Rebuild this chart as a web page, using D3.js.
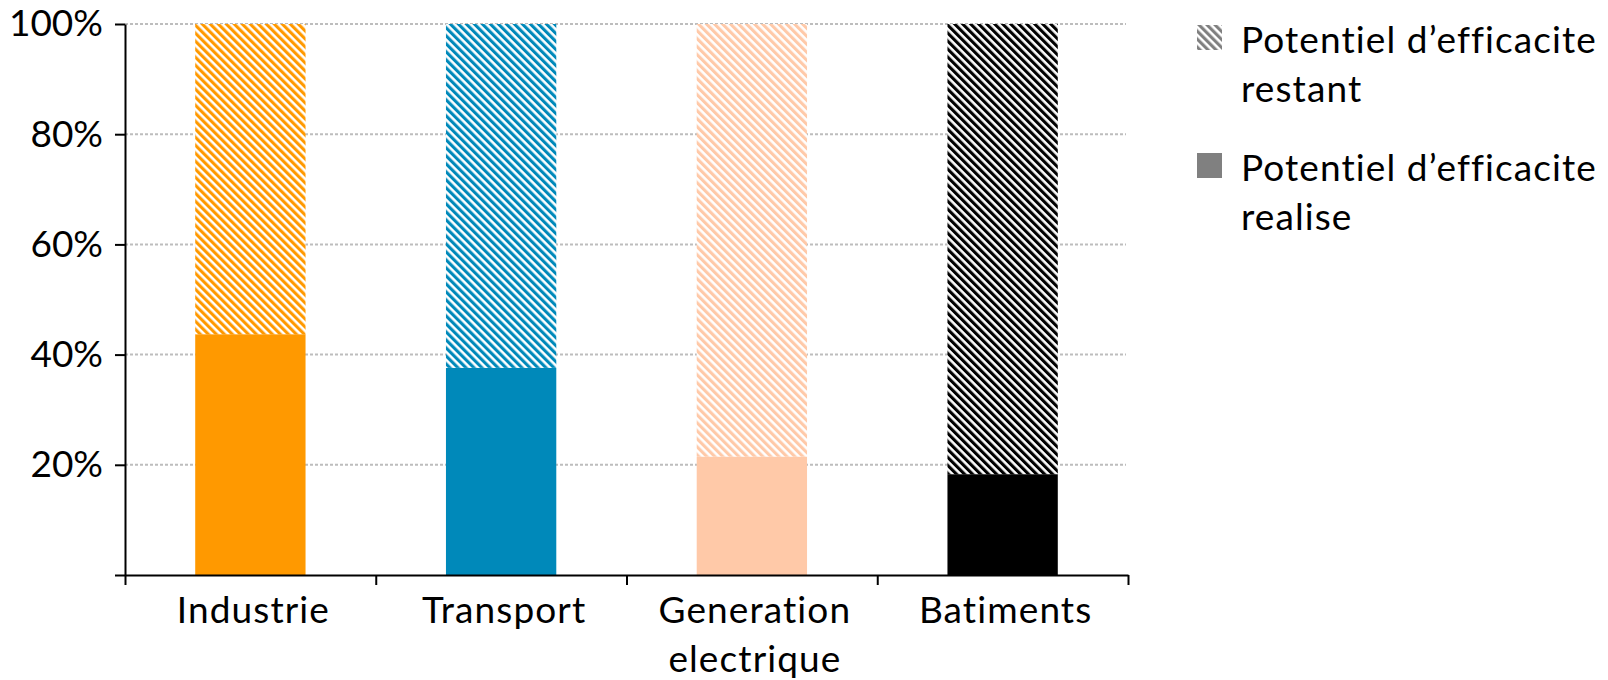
<!DOCTYPE html>
<html>
<head>
<meta charset="utf-8">
<script src="https://cdn.jsdelivr.net/npm/d3@7"></script>
<style>
  html, body { margin: 0; padding: 0; background: #fff; }
  svg { display: block; font-family: Lato, "Open Sans", sans-serif; font-variant-ligatures: none; }
</style>
</head>
<body>
<svg id="chart" width="1608" height="680"></svg>
<script>
// Share of efficiency potential realised per sector (fraction of 100 %)
const categories = ["Industrie", "Transport", "Generation\nelectrique", "Batiments"];
const realised = [0.437, 0.376, 0.215, 0.183];
const remaining = realised.map(v => 1 - v);
const colors = ["#ff9900", "#0089ba", "#ffc9a8", "#000000"];
const yTicks = [0, 0.2, 0.4, 0.6, 0.8, 1.0];
const legendLabels = [
  ["Potentiel d\u2019efficacite", "restant"],
  ["Potentiel d\u2019efficacite", "realise"]
];

const svg = d3.select("#chart");
const plotLeft = 125, plotRight = 1128, plotTop = 24, plotBottom = 575;

const x = d3.scaleBand().domain(categories).range([plotLeft, plotRight])
  .paddingInner(0.56).paddingOuter(0.28);
const y = d3.scaleLinear().domain([0, 1]).range([plotBottom, plotTop]);

// diagonal hatch patterns, one per sector colour plus a grey one for the legend
const defs = svg.append("defs");
function hatch(id, color) {
  const p = defs.append("pattern")
    .attr("id", id)
    .attr("patternUnits", "userSpaceOnUse")
    .attr("width", 5.66).attr("height", 5.66)
    .attr("patternTransform", "rotate(-45)");
  p.append("rect").attr("width", 5.66).attr("height", 5.66).attr("fill", "#fff");
  p.append("rect").attr("x", 0).attr("width", 3.1).attr("height", 5.66).attr("fill", color);
}
colors.forEach((c, i) => hatch("hatch" + i, c));
hatch("hatchLegend", "#808080");

// dotted gridlines
svg.append("g").selectAll("line")
  .data(yTicks.filter(d => d > 0))
  .join("line")
  .attr("x1", plotLeft).attr("x2", plotRight - 2)
  .attr("y1", d => y(d)).attr("y2", d => y(d))
  .attr("stroke", "#bdbdbd").attr("stroke-width", 2)
  .attr("stroke-dasharray", "3,2");

// bars: solid realised part, hatched remaining part on top
const bars = svg.append("g");
bars.selectAll("rect.realised")
  .data(categories)
  .join("rect")
  .attr("class", "realised")
  .attr("x", d => x(d)).attr("width", x.bandwidth())
  .attr("y", (d, i) => y(realised[i]))
  .attr("height", (d, i) => y(0) - y(realised[i]))
  .attr("fill", (d, i) => colors[i]);
bars.selectAll("rect.remaining")
  .data(categories)
  .join("rect")
  .attr("class", "remaining")
  .attr("x", d => x(d)).attr("width", x.bandwidth())
  .attr("y", (d, i) => y(realised[i] + remaining[i]))
  .attr("height", (d, i) => y(realised[i]) - y(realised[i] + remaining[i]))
  .attr("fill", (d, i) => `url(#hatch${i})`);

// y axis
const yAxis = svg.append("g")
  .attr("transform", `translate(${plotLeft},0)`)
  .call(d3.axisLeft(y).tickValues(yTicks).tickSize(10).tickSizeOuter(0)
    .tickPadding(12)
    .tickFormat(d => d === 0 ? "" : d3.format(".0%")(d)));
yAxis.selectAll("path, line").attr("stroke", "#000").attr("stroke-width", 2);
yAxis.selectAll("text").attr("font-size", 37).attr("fill", "#000")
  .attr("font-family", "Lato, sans-serif");

// x axis: line with ticks at category boundaries
const xb = d3.scaleLinear().domain([0, categories.length]).range([plotLeft, plotRight]);
const xAxis = svg.append("g")
  .attr("transform", `translate(0,${plotBottom})`)
  .call(d3.axisBottom(xb).tickValues(d3.range(categories.length + 1))
    .tickSize(10).tickSizeOuter(0).tickFormat(""));
xAxis.selectAll("path, line").attr("stroke", "#000").attr("stroke-width", 2);

// category labels
const labels = svg.append("g")
  .attr("font-size", 37).attr("letter-spacing", 1.1)
  .attr("text-anchor", "middle").attr("fill", "#000");
categories.forEach(c => {
  const cx = x(c) + x.bandwidth() / 2 + 3;
  const t = labels.append("text").attr("x", cx).attr("y", 623);
  c.split("\n").forEach((line, k) => {
    t.append("tspan").attr("x", cx).attr("dy", k === 0 ? 0 : 49).text(line);
  });
});

// legend
const legend = svg.append("g").attr("font-size", 37).attr("letter-spacing", 1.1).attr("fill", "#000");
const legendFills = ["url(#hatchLegend)", "#808080"];
legendLabels.forEach((lines, i) => {
  const g = legend.append("g").attr("transform", `translate(1197,${25 + i * 128})`);
  g.append("rect").attr("width", 25).attr("height", 25).attr("fill", legendFills[i]);
  const t = g.append("text").attr("x", 44).attr("y", 28);
  lines.forEach((line, k) => {
    t.append("tspan").attr("x", 44).attr("dy", k === 0 ? 0 : 49).text(line);
  });
});
</script>
</body>
</html>
